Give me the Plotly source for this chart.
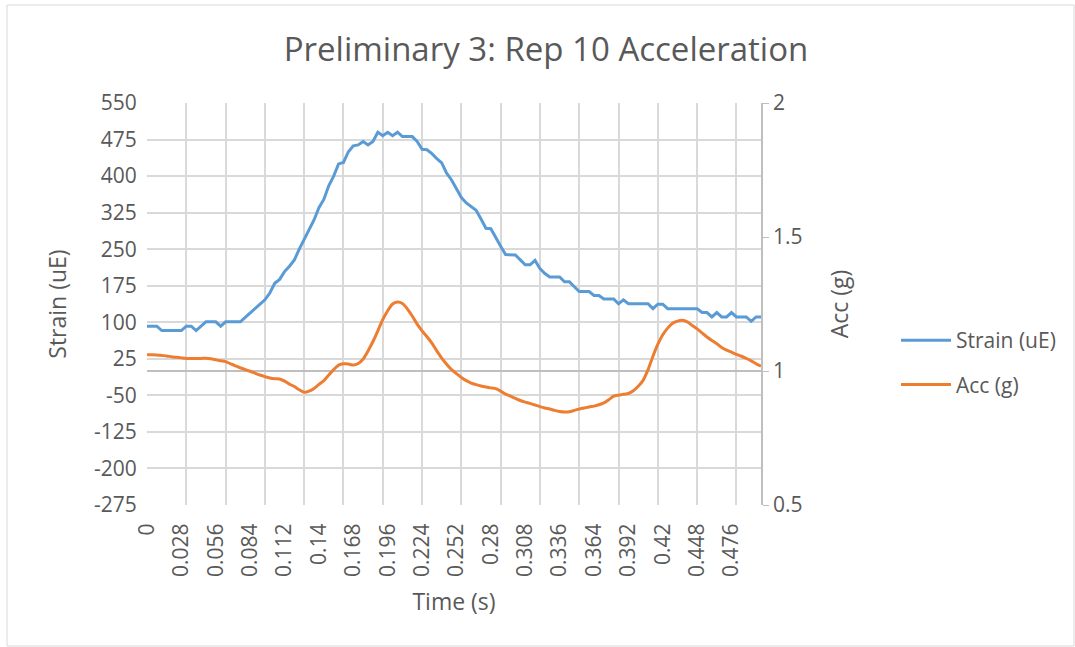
import plotly.graph_objects as go

# Sample times (s): 250 Hz sampling, 0 to 0.5 s
time_s = [round(i * 0.004, 3) for i in range(126)]

strain_ue = [
    92, 92, 92, 83, 83, 83, 83, 83, 92, 92,
    83, 92, 101, 101, 101, 92, 101, 101, 101, 101,
    110, 119, 128, 137, 146, 160, 180, 188, 204, 215,
    228, 250, 270, 290, 310, 335, 352, 380, 400, 425,
    428, 450, 462, 464, 471, 464, 471, 490, 483, 490,
    483, 490, 481, 481, 481, 471, 455, 454, 446, 436,
    427, 406, 392, 374, 356, 345, 337, 330, 312, 293,
    292, 273, 256, 239, 238, 238, 228, 218, 218, 227,
    210, 200, 193, 193, 193, 183, 183, 173, 163, 163,
    163, 155, 155, 148, 148, 148, 138, 146, 138, 138,
    138, 138, 138, 128, 137, 137, 128, 128, 128, 128,
    128, 128, 128, 120, 120, 111, 120, 111, 111, 120,
    111, 111, 111, 102, 111, 111,
]

acc_g = [
    1.061, 1.061, 1.060, 1.058, 1.056, 1.053, 1.051, 1.049, 1.047, 1.047,
    1.047, 1.047, 1.048, 1.046, 1.042, 1.038, 1.035, 1.027, 1.019, 1.012,
    1.005, 0.999, 0.992, 0.985, 0.979, 0.974, 0.971, 0.970, 0.962, 0.951,
    0.942, 0.930, 0.921, 0.925, 0.935, 0.950, 0.964, 0.985, 1.005, 1.022,
    1.027, 1.026, 1.022, 1.028, 1.045, 1.075, 1.110, 1.150, 1.192, 1.225,
    1.250, 1.257, 1.252, 1.232, 1.205, 1.175, 1.150, 1.128, 1.104, 1.075,
    1.048, 1.025, 1.005, 0.990, 0.976, 0.964, 0.955, 0.949, 0.944, 0.940,
    0.937, 0.934, 0.925, 0.914, 0.906, 0.898, 0.890, 0.884, 0.879, 0.873,
    0.867, 0.862, 0.858, 0.853, 0.849, 0.847, 0.848, 0.853, 0.858, 0.862,
    0.866, 0.869, 0.874, 0.881, 0.893, 0.906, 0.910, 0.913, 0.916, 0.926,
    0.943, 0.965, 1.005, 1.055, 1.100, 1.135, 1.160, 1.178, 1.186, 1.189,
    1.183, 1.170, 1.157, 1.142, 1.127, 1.114, 1.102, 1.088, 1.078, 1.070,
    1.062, 1.055, 1.047, 1.038, 1.027, 1.018,
]

time_labels = [
    "0", "0.028", "0.056", "0.084", "0.112", "0.14", "0.168", "0.196", "0.224",
    "0.252", "0.28", "0.308", "0.336", "0.364", "0.392", "0.42", "0.448", "0.476",
]
time_label_vals = [float(s) for s in time_labels]

strain_ticks = [550, 475, 400, 325, 250, 175, 100, 25, -50, -125, -200, -275]
strain_tick_text = [str(v) for v in strain_ticks]  # plain hyphen minus
acc_ticks = [0.5, 1, 1.5, 2]
acc_tick_text = ["0.5", "1", "1.5", "2"]

FONT = "'Open Sans', Lato, sans-serif"
TXT = "#595959"
GRID = "#D9D9D9"
AXIS = "#BFBFBF"
CLEAR = "rgba(0,0,0,0)"
TICK_SIZE = 21
AXTITLE_SIZE = 23

fig = go.Figure()
fig.add_trace(go.Scatter(
    x=time_s, y=strain_ue, name="Strain (uE)", mode="lines",
    legendgroup="strain",
    line=dict(color="#5B9BD5", width=3),
))
fig.add_trace(go.Scatter(
    x=time_s, y=acc_g, name="Acc (g)", mode="lines",
    xaxis="x2", yaxis="y2", legendgroup="acc",
    line=dict(color="#ED7D31", width=3, shape="spline", smoothing=0.6),
))

x_range = [time_s[0], time_s[-1]]

fig.update_layout(
    width=1075, height=647,
    margin=dict(l=147, r=314, t=103, b=142),
    paper_bgcolor="white", plot_bgcolor="white",
    font=dict(family=FONT, color=TXT, size=TICK_SIZE),
    title=dict(
        text="Preliminary 3: Rep 10 Acceleration",
        x=546 / 1075, xanchor="center",
        y=1 - 49 / 647, yanchor="middle",
        font=dict(size=33, color=TXT),
    ),
    xaxis=dict(
        range=x_range, tickmode="array", tickvals=time_label_vals,
        ticktext=time_labels, tickangle=-90, showgrid=False,
        zeroline=False, showline=False,
        ticks="outside", ticklen=9, tickcolor=CLEAR,
        tickfont=dict(size=TICK_SIZE),
        title=dict(text="Time (s)", standoff=17, font=dict(size=AXTITLE_SIZE)),
    ),
    xaxis2=dict(
        range=x_range, overlaying="x", anchor="y2", side="bottom",
        tick0=0, dtick=0.032, showgrid=True, gridcolor=GRID, gridwidth=1.5,
        showticklabels=False, ticks="", zeroline=False, showline=False,
    ),
    yaxis=dict(
        range=[-275, 550], tickmode="array", tickvals=strain_ticks,
        ticktext=strain_tick_text, showgrid=True,
        gridcolor=GRID, gridwidth=1.5, zeroline=True, zerolinecolor=AXIS,
        zerolinewidth=2, showline=False,
        ticks="outside", ticklen=5, tickcolor=CLEAR,
        tickfont=dict(size=TICK_SIZE),
        title=dict(text="Strain (uE)", standoff=20, font=dict(size=AXTITLE_SIZE)),
    ),
    yaxis2=dict(
        range=[0.5, 2], tickmode="array", tickvals=acc_ticks,
        ticktext=acc_tick_text, overlaying="y", side="right", anchor="x2",
        showgrid=False, zeroline=False, showline=True, linecolor=AXIS,
        linewidth=1.5, ticks="outside", ticklen=6, tickcolor=AXIS,
        tickfont=dict(size=TICK_SIZE),
        title=dict(text="Acc (g)", standoff=30, font=dict(size=AXTITLE_SIZE)),
    ),
    legend=dict(
        x=(896 - 147) / 614, xanchor="left",
        y=(505 - 320) / 402, yanchor="top",
        font=dict(size=TICK_SIZE), bgcolor=CLEAR, tracegroupgap=14,
        itemwidth=50,
    ),
    shapes=[dict(
        type="rect", xref="paper", yref="paper",
        x0=(7 - 147) / 614, x1=(1074 - 147) / 614,
        y0=(505 - 646) / 402, y1=(505 - 5) / 402,
        line=dict(color="#D9D9D9", width=1), fillcolor=CLEAR,
        layer="below",
    )],
)

fig.write_html("out.html")
